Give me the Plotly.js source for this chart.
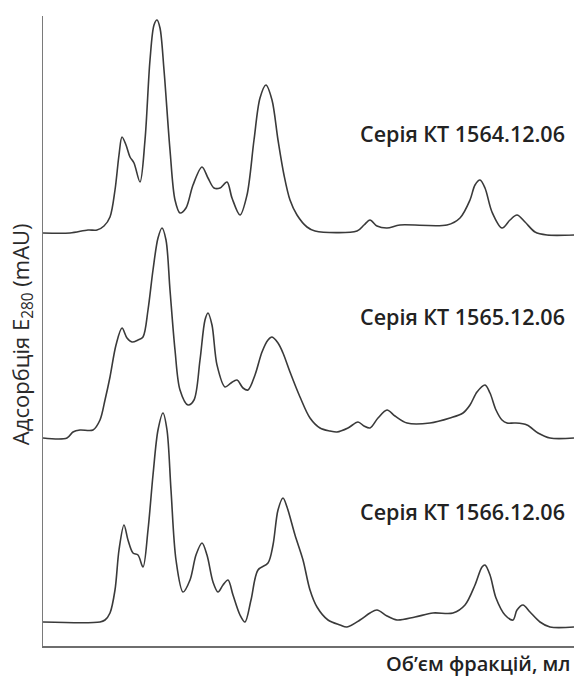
<!DOCTYPE html>
<html>
<head>
<meta charset="utf-8">
<script src="https://cdn.plot.ly/plotly-3.0.1.min.js"></script>
<style>html,body{margin:0;padding:0;background:#fff;}#chart{width:574px;height:678px;}</style>
</head>
<body>
<div id="chart"></div>
<script>
// Elution volume (arbitrary ml units) and absorbance above each trace's own baseline (mAU)
const seriesNames = ["Серія КТ 1564.12.06", "Серія КТ 1565.12.06", "Серія КТ 1566.12.06"];

const x1564 = [0,5.4,9,10.8,12.2,13.4,14.4,15.2,15.8,16.6,17.4,18.2,19.4,20.4,21.4,22.2,22.8,23.4,24.2,25.4,26.4,27.4,28.6,30,31.8,33,34.2,35.4,36.8,37.8,39.4,40.8,42.2,43.4,44.6,45.8,47,48.2,49.4,50.8,52.8,54.4,62.8,64.2,65.4,66.8,68.8,71.4,80.8,83.4,85.4,86.4,87.4,88.4,89.8,91.8,93.4,94.8,96.4,98.4,100.8,106.2];
const y1564 = [2,2,5,5,9,18,45,80,98,90,78,72,53,95,175,210,215,207,165,85,35,22,27,50,68,57,47,47,53,37,20,40,95,137,150,135,95,60,35,20,8,4,4,10,15,9,7,10,10,17,35,50,55,47,23,7,15,20,13,3,0,0];

const x1565 = [0,4.8,6,7.4,10,11.4,12.4,13.4,14.6,15.8,16.8,17.8,19,20,21,22,23,23.8,24.6,25.4,26.4,27.4,29,30.2,31.4,32.4,33,33.8,34.8,36.4,37.6,38.8,40,41,42.4,43.8,45,45.8,47,48,49.4,51.4,53.4,55.4,57.4,58.8,61,63,64.2,65.4,67,68.8,70.4,72.8,77.4,81.4,84,85.4,86.8,88.4,89.4,90.6,91.8,92.8,94.4,96.8,99,101.4,106.2];
const y1565 = [0,0,6,8,8,18,38,61,93,110,100,96,98,101,128,168,200,210,198,148,88,48,33,38,78,118,125,113,73,51,55,58,50,48,63,86,98,101,95,85,66,41,20,10,7,6,10,16,12,10,20,28,22,15,15,20,25,33,46,53,45,28,18,15,15,13,5,0,0];

const x1566 = [0,11.4,12.4,13.4,14.4,15.2,16.2,17,18,19,20,21,22,23,24,24.8,25.6,26.6,28,29.4,30.6,31.8,32.8,34,35,36,37,38,39.4,40.4,41.6,43,45,46,47,48,48.8,50.4,52,53.4,54.8,57,59.4,60.8,63.4,65.4,66.8,68.8,70.8,74.4,78,82,84.4,86.4,87.8,88.4,89.4,90.6,92.4,94,94.8,96,97.4,99.4,101.4,106.2];
const y1566 = [5,5,7,14,37,77,102,87,74,72,60,97,152,197,214,197,137,67,35,47,72,84,72,45,35,42,47,32,12,5,27,57,64,82,117,129,120,92,67,37,20,7,2,0,7,14,17,11,7,10,14,14,22,42,60,62,52,29,12,7,17,22,15,5,0,0];

const xTitle = "Об’єм фракцій, мл";
const yTitle = "Адсорбція E<sub>280</sub> (mAU)";

// vertical stacking offsets (layout only)
const offsets = [411, 208, 19];
const labelY = [513, 330, 135];

const xs = [x1564, x1565, x1566];
const ys = [y1564, y1565, y1566];

const lineColor = "#3a3a3a";
const traces = xs.map((xv, i) => ({
  x: xv,
  y: ys[i].map(v => v + offsets[i]),
  type: "scatter",
  mode: "lines",
  name: seriesNames[i],
  line: {color: lineColor, width: 1.6, shape: "spline", smoothing: 0.9},
  hoverinfo: "skip"
}));

const fontFam = "Open Sans, Noto Sans, sans-serif";
const annotations = seriesNames.map((t, i) => ({
  text: t, x: 104.8, y: labelY[i], xref: "x", yref: "y",
  xanchor: "right", yanchor: "middle", showarrow: false,
  font: {family: fontFam, size: 21.5, weight: 600, color: "#222222"}
}));
annotations.push({
  text: xTitle, xref: "paper", yref: "paper", x: 1, xshift: -2, y: -0.0278,
  xanchor: "right", yanchor: "middle", showarrow: false, borderpad: 0,
  font: {family: fontFam, size: 20, weight: 600, color: "#222222"}
});
annotations.push({
  text: yTitle, xref: "paper", yref: "paper", x: 0, y: 0.495, xshift: -21,
  xanchor: "center", yanchor: "middle", textangle: -90, showarrow: false,
  font: {family: fontFam, size: 22, color: "#2a2a2a"}
});

const layout = {
  width: 574, height: 678,
  margin: {l: 43, r: 0, t: 16, b: 32, pad: 0},
  paper_bgcolor: "#ffffff", plot_bgcolor: "#ffffff",
  showlegend: false,
  xaxis: {range: [0, 106.2], showgrid: false, zeroline: false, showticklabels: false,
          ticks: "", showline: true, linecolor: "#6e6e6e", linewidth: 2, fixedrange: true},
  yaxis: {range: [0, 630], showgrid: false, zeroline: false, showticklabels: false,
          ticks: "", showline: true, linecolor: "#7a7a7a", linewidth: 1.5, fixedrange: true},
  annotations: annotations
};

Plotly.newPlot("chart", traces, layout, {displayModeBar: false, staticPlot: true});
</script>
</body>
</html>
